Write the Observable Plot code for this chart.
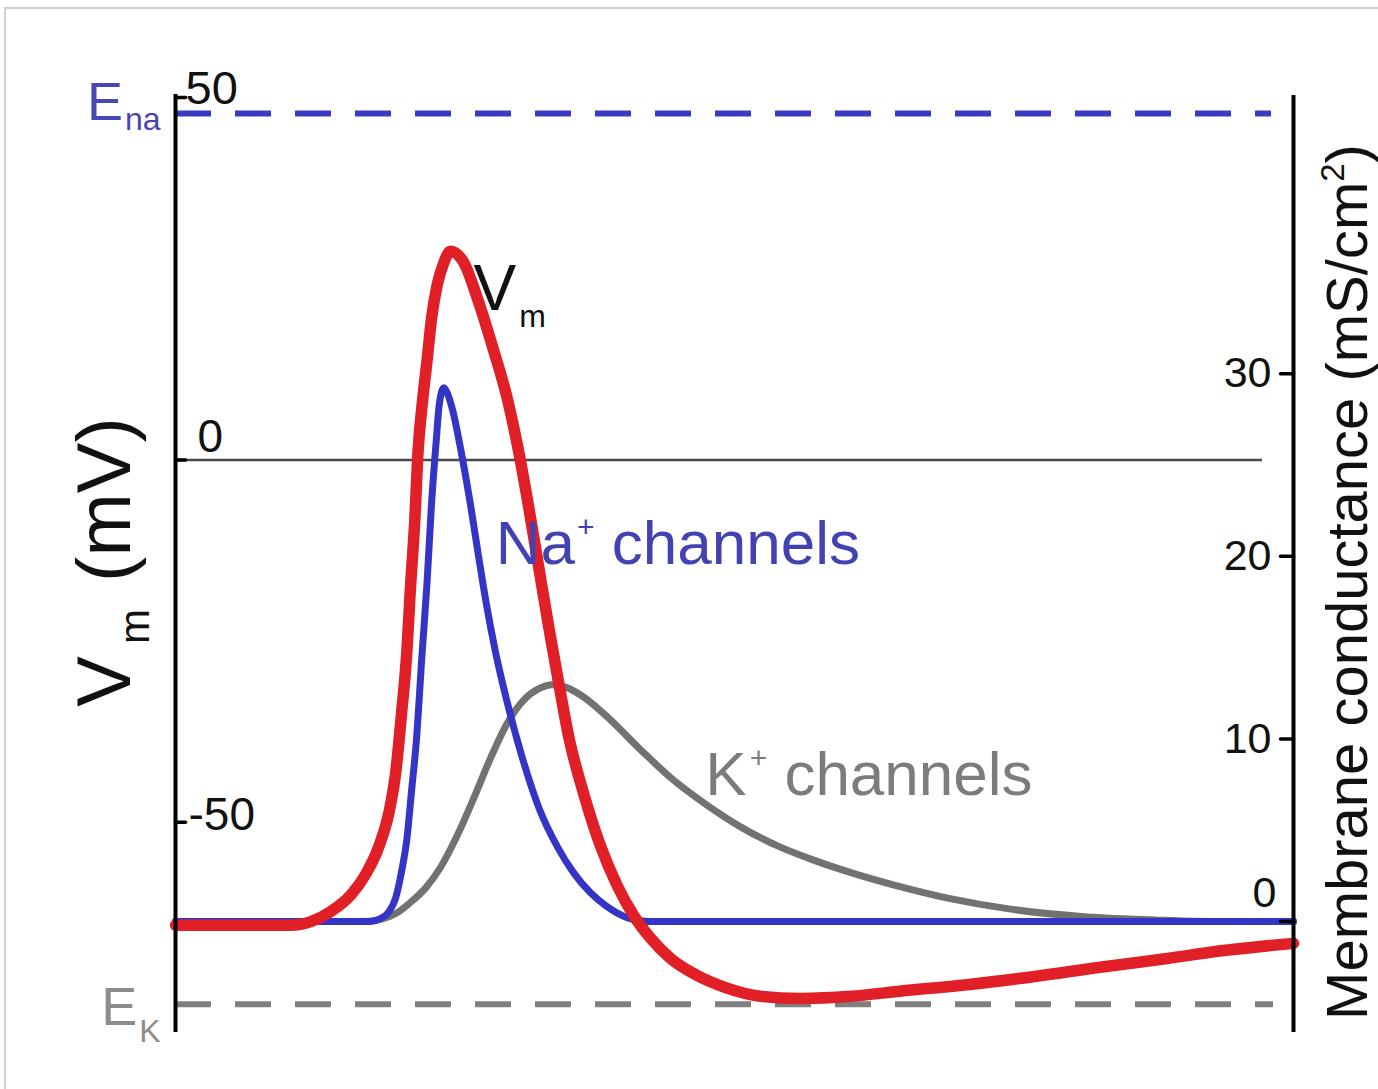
<!DOCTYPE html>
<html>
<head>
<meta charset="utf-8">
<script src="https://cdn.jsdelivr.net/npm/d3@7"></script>
<script src="https://cdn.jsdelivr.net/npm/@observablehq/plot@0.6"></script>
<style>
  html, body { margin: 0; padding: 0; background: #ffffff; }
  #wrap { position: relative; width: 1378px; height: 1089px; overflow: hidden; background: #fff; }
  #frame { position: absolute; left: 4px; top: 7px; width: 1400px; height: 1100px;
           border-top: 2px solid #cfcfcf; border-left: 2px solid #cfcfcf; pointer-events: none; }
  svg { display: block; }
</style>
</head>
<body>
<div id="wrap"><div id="chart"></div><div id="frame"></div></div>
<script>
// ---------------- data ----------------
// time axis (arbitrary ms units, no axis drawn)
const T_START = 0, T_END = 10;
// membrane potential Vm (mV)
const VM_T  = [0, 1.03, 1.21, 1.39, 1.57, 1.70, 1.82, 1.91, 1.97, 2.02,
               2.07, 2.10, 2.14, 2.17, 2.21, 2.25, 2.29, 2.34, 2.40, 2.46,
               2.58, 2.70, 2.84, 2.97, 3.07, 3.16, 3.25, 3.34, 3.43, 3.52,
               3.65, 3.80, 3.95, 4.10, 4.25, 4.43, 4.65, 4.92, 5.23, 5.59,
               6.04, 6.48, 7.08, 7.67, 8.27, 8.87, 9.32, 10.0];
const VM_MV = [-64.2, -64.2, -63.7, -62.3, -60.0, -57.2, -53.3, -48.6, -43.1, -35.3,
               -26.3, -18.0, -8.4, 1.3, 8.2, 13.7, 19.5, 24.1, 27.2, 28.8,
               27.2, 22.3, 15.4, 8.3, 1.1, -6.6, -14.9, -23.2, -31.0, -38.4,
               -46.0, -53.2, -58.7, -62.9, -66.0, -68.8, -71.0, -72.8, -74.0, -74.3,
               -74.0, -73.3, -72.4, -71.3, -70.0, -68.8, -67.8, -66.7];
// Na+ conductance (mS/cm2)
const NA_T = [0, 1.74, 1.83, 1.91, 1.97, 2.02, 2.07, 2.11, 2.16, 2.20,
              2.25, 2.29, 2.33, 2.36, 2.40, 2.43, 2.48, 2.55, 2.64, 2.71,
              2.78, 2.86, 2.97, 3.11, 3.26, 3.42, 3.56, 3.71, 3.86, 4.04,
              4.25, 10.0];
const NA_G = [0, 0, 0.16, 0.55, 1.31, 2.68, 4.54, 7.06, 10.34, 14.18,
              18.56, 22.88, 26.16, 28.35, 29.23, 28.95, 27.97, 25.89, 22.77, 20.03,
              17.41, 14.83, 11.93, 8.81, 6.08, 4.05, 2.68, 1.59, 0.82, 0.22,
              0, 0];
// K+ conductance (mS/cm2)
const K_T = [0, 1.65, 1.83, 1.97, 2.10, 2.24, 2.37, 2.52, 2.67, 2.82,
             2.97, 3.11, 3.25, 3.37, 3.50, 3.67, 3.86, 4.16, 4.45, 4.76,
             5.05, 5.38, 5.72, 6.07, 6.48, 6.93, 7.44, 8.13, 8.82, 9.44, 10.0];
const K_G = [0, 0, 0.11, 0.44, 1.04, 1.86, 2.96, 4.71, 6.79, 8.98,
             10.89, 12.10, 12.75, 12.97, 12.81, 12.21, 11.22, 9.41, 7.77, 6.35,
             5.20, 4.16, 3.34, 2.63, 1.92, 1.26, 0.71, 0.27, 0.08, 0, 0];
// reversal potentials (mV)
const E_NA = 47.8;
const E_K = -75.1;
// axes
const VM_MIN = -79, VM_MAX = 50;
const VM_TICKS = [50, 0, -50];
const G_TICKS = [0, 10, 20, 30];
// conductance axis -> potential axis mapping (0 mS/cm2 at -63.7 mV, 30 at 11.9 mV)
const G_ZERO_MV = -63.7;
const MV_PER_G = 2.52;
// texts
const LABEL_VM = ["V", "m"];
const LABEL_NA = ["Na", "+", " channels"];
const LABEL_K = ["K", "+", " channels"];
const LABEL_ENA = ["E", "na"];
const LABEL_EK = ["E", "K"];
const TITLE_LEFT = ["V", "m", " (mV)"];
const TITLE_RIGHT = ["Membrane conductance (mS/cm", "2", ")"];

// ---------------- build tables ----------------
const gToV = g => G_ZERO_MV + g * MV_PER_G;
const vm = VM_T.map((t, i) => ({t, v: VM_MV[i]}));
const na = NA_T.map((t, i) => ({t, v: gToV(NA_G[i])}));
const k = K_T.map((t, i) => ({t, v: gToV(K_G[i])}));
const vmPeak = vm[d3.maxIndex(vm, d => d.v)];
const naPeak = na[d3.maxIndex(na, d => d.v)];
const kPeak = k[d3.maxIndex(k, d => d.v)];

const tickShape = {draw(context, l) { context.moveTo(0, 0); context.lineTo(0, -l); }};
const FONT = "'Liberation Sans', Arial, Helvetica, sans-serif";

const plot = Plot.plot({
  width: 1378,
  height: 1089,
  marginLeft: 175,
  marginRight: 85,
  marginTop: 97,
  marginBottom: 57,
  x: {domain: [T_START, T_END], axis: null},
  y: {domain: [VM_MIN, VM_MAX], axis: null},
  style: {fontFamily: FONT, background: "transparent", overflow: "visible"},
  marks: [
    // reversal potentials
    Plot.ruleY([E_NA], {stroke: "#3b3bc2", strokeWidth: 6, strokeDasharray: "36,24", insetRight: 22}),
    Plot.ruleY([E_K], {stroke: "#7f7f7f", strokeWidth: 6, strokeDasharray: "36,24", insetRight: 20}),
    // zero line
    Plot.ruleY([0], {stroke: "#4a4a4a", strokeWidth: 2.5, insetRight: 31}),
    // conductances and potential
    Plot.line(k, {x: "t", y: "v", stroke: "#727272", strokeWidth: 7, curve: "monotone-x"}),
    Plot.line(na, {x: "t", y: "v", stroke: "#3434c6", strokeWidth: 7, curve: "monotone-x"}),
    Plot.line(vm, {x: "t", y: "v", stroke: "#e01f27", strokeWidth: 11.5, curve: "monotone-x"}),
    // axes lines
    Plot.ruleX([T_START], {stroke: "#000", strokeWidth: 4, insetTop: -3}),
    Plot.ruleX([T_END], {stroke: "#000", strokeWidth: 4, insetTop: -2}),
    // axes ticks (pointing inward)
    Plot.vector(VM_TICKS, {x: T_START, y: d => d, length: 10, rotate: 90, anchor: "start",
      shape: tickShape, stroke: "#000", strokeWidth: 3.5}),
    Plot.vector(G_TICKS, {x: T_END, y: d => gToV(d), length: 13, rotate: -90, anchor: "start",
      shape: tickShape, stroke: "#000", strokeWidth: 3.5}),
    // left tick labels
    Plot.text(VM_TICKS.filter(d => d === 50), {x: T_START, y: d => d, text: d => String(d),
      textAnchor: "start", lineAnchor: "bottom", dx: 10, dy: 6, fontSize: 47, fill: "#111"}),
    Plot.text(VM_TICKS.filter(d => d === 0), {x: T_START, y: d => d, text: d => String(d),
      textAnchor: "start", lineAnchor: "bottom", dx: 22, dy: -8, fontSize: 46, fill: "#111"}),
    Plot.text(VM_TICKS.filter(d => d === -50), {x: T_START, y: d => d, text: d => String(d),
      textAnchor: "start", lineAnchor: "bottom", dx: 13, dy: 8, fontSize: 46, fill: "#111"}),
    // right tick labels
    Plot.text(G_TICKS.filter(d => d > 0), {x: T_END, y: d => gToV(d), text: d => String(d),
      textAnchor: "end", lineAnchor: "middle", dx: -22, fontSize: 43, fill: "#111"}),
    Plot.text(G_TICKS.filter(d => d === 0), {x: T_END, y: d => gToV(d), text: d => String(d),
      textAnchor: "end", lineAnchor: "middle", dx: -17, dy: -28, fontSize: 43, fill: "#111"}),
    // reversal potential labels
    Plot.text([LABEL_ENA.join("")], {x: T_START, y: E_NA, textAnchor: "end", lineAnchor: "bottom",
      dx: -15, dy: 7, fontSize: 54, fill: "#4646b6", className: "lbl-ena"}),
    Plot.text([LABEL_EK.join("")], {x: T_START, y: E_K, textAnchor: "end", lineAnchor: "bottom",
      dx: -15, dy: 21, fontSize: 54, fill: "#8c8c8c", className: "lbl-ek"}),
    // curve annotations, anchored on each curve's peak
    Plot.text([vmPeak], {x: "t", y: "v", text: () => LABEL_VM.join(""), textAnchor: "start",
      lineAnchor: "bottom", dx: 23, dy: 59, fontSize: 64, fill: "#111", className: "lbl-vm"}),
    Plot.text([naPeak], {x: "t", y: "v", text: () => LABEL_NA.join(""), textAnchor: "start",
      lineAnchor: "bottom", dx: 52, dy: 176, fontSize: 62, fill: "#4242b2", className: "lbl-na"}),
    Plot.text([kPeak], {x: "t", y: "v", text: () => LABEL_K.join(""), textAnchor: "start",
      lineAnchor: "bottom", dx: 153, dy: 110, fontSize: 62, fill: "#7c7c7c", className: "lbl-k"}),
    // axis titles
    Plot.text([TITLE_LEFT.join("")], {frameAnchor: "left", rotate: -90, textAnchor: "middle",
      lineAnchor: "bottom", dx: -46, dy: -3, fontSize: 76, fill: "#111", className: "ttl-left"}),
    Plot.text([TITLE_RIGHT.join("")], {frameAnchor: "right", rotate: -90, textAnchor: "middle",
      lineAnchor: "bottom", dx: 73, dy: 17, fontSize: 58, fill: "#111", className: "ttl-right"})
  ]
});

// rich text (sub/superscripts) on the Plot text marks
function rich(svg, cls, strings, fmt) {
  svg.querySelectorAll(`g.${cls} text`).forEach(t => {
    t.textContent = "";
    strings.forEach((s, i) => {
      const ts = document.createElementNS("http://www.w3.org/2000/svg", "tspan");
      ts.textContent = s;
      const f = fmt[i] || {};
      for (const key in f) ts.setAttribute(key, f[key]);
      t.appendChild(ts);
    });
  });
}
rich(plot, "lbl-vm", LABEL_VM, [{}, {"font-size": 32, dx: 3, dy: 17}]);
rich(plot, "lbl-na", LABEL_NA, [{}, {"font-size": 30, dx: 2, dy: -27}, {dy: 27}]);
rich(plot, "lbl-k", LABEL_K, [{}, {"font-size": 30, dx: 3, dy: -27}, {dy: 27}]);
rich(plot, "lbl-ena", LABEL_ENA, [{}, {"font-size": 32, dx: 2, dy: 10}]);
rich(plot, "lbl-ek", LABEL_EK, [{}, {"font-size": 32, dx: 2, dy: 17}]);
rich(plot, "ttl-left", TITLE_LEFT, [{}, {"font-size": 42, dx: 12, dy: 19}, {dx: 6, dy: -19}]);
rich(plot, "ttl-right", TITLE_RIGHT, [{}, {"font-size": 33, dy: -23}, {dy: 23}]);

document.getElementById("chart").appendChild(plot);
</script>
</body>
</html>
